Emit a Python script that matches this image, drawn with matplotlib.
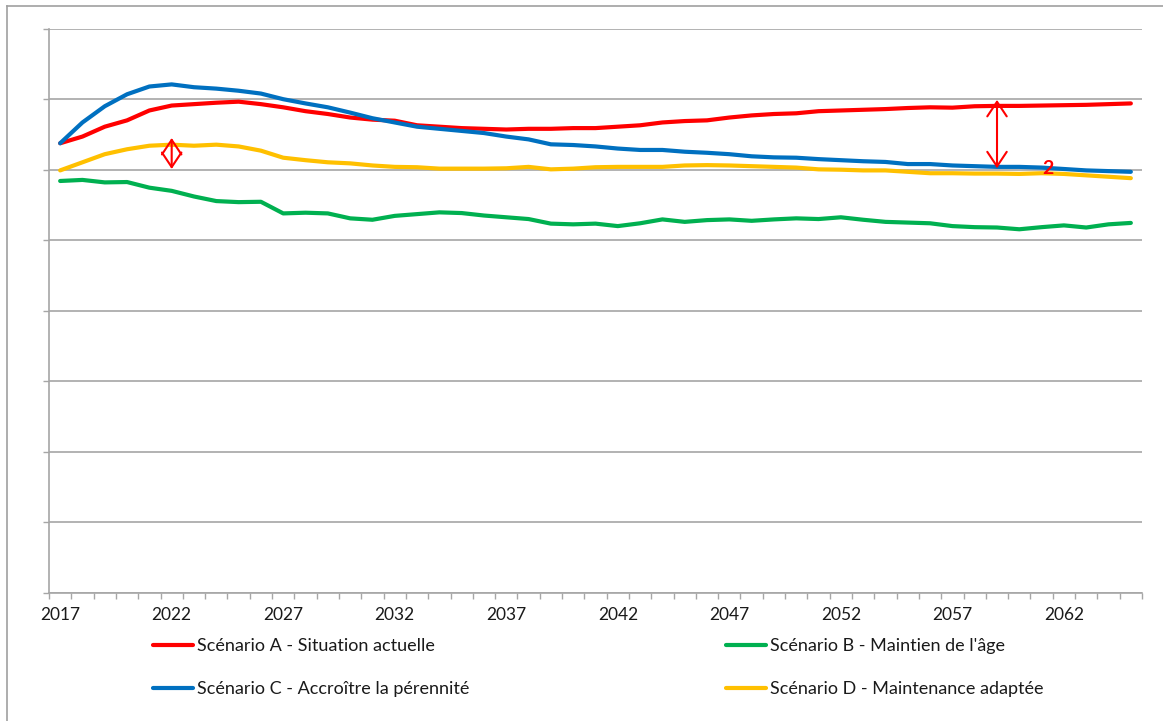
import matplotlib
matplotlib.use("Agg")
import matplotlib.pyplot as plt
from matplotlib.lines import Line2D
import numpy as np

years = list(range(2017, 2066))
tick_years = list(range(2017, 2066, 5))

scen_A = [6.375, 6.47, 6.61, 6.70, 6.84, 6.91, 6.93, 6.95, 6.965, 6.93,
          6.885, 6.83, 6.79, 6.74, 6.71, 6.695, 6.63, 6.61, 6.59, 6.58,
          6.57, 6.58, 6.58, 6.59, 6.59, 6.61, 6.63, 6.67, 6.69, 6.70,
          6.74, 6.77, 6.79, 6.80, 6.83, 6.84, 6.85, 6.86, 6.875, 6.885,
          6.88, 6.90, 6.905, 6.905, 6.91, 6.915, 6.92, 6.93, 6.94]
scen_B = [5.84, 5.855, 5.82, 5.825, 5.745, 5.70, 5.62, 5.555, 5.54, 5.545,
          5.38, 5.39, 5.38, 5.31, 5.29, 5.345, 5.37, 5.395, 5.385, 5.35,
          5.325, 5.30, 5.235, 5.225, 5.235, 5.20, 5.24, 5.295, 5.26, 5.285,
          5.295, 5.275, 5.295, 5.31, 5.30, 5.325, 5.29, 5.26, 5.25, 5.24,
          5.20, 5.185, 5.18, 5.155, 5.185, 5.21, 5.18, 5.225, 5.245]
scen_C = [6.375, 6.67, 6.90, 7.07, 7.18, 7.21, 7.17, 7.15, 7.12, 7.08,
          7.00, 6.94, 6.885, 6.81, 6.73, 6.67, 6.61, 6.58, 6.55, 6.52,
          6.47, 6.43, 6.36, 6.35, 6.33, 6.30, 6.28, 6.28, 6.255, 6.24,
          6.22, 6.19, 6.175, 6.17, 6.15, 6.135, 6.12, 6.11, 6.08, 6.08,
          6.06, 6.05, 6.04, 6.04, 6.03, 6.01, 5.99, 5.98, 5.97]
scen_D = [5.99, 6.105, 6.22, 6.29, 6.34, 6.355, 6.34, 6.355, 6.33, 6.27,
          6.17, 6.135, 6.105, 6.09, 6.06, 6.04, 6.035, 6.015, 6.015, 6.015,
          6.02, 6.04, 6.005, 6.015, 6.035, 6.04, 6.04, 6.04, 6.06, 6.065,
          6.06, 6.05, 6.04, 6.03, 6.005, 6.00, 5.99, 5.99, 5.97, 5.95,
          5.95, 5.945, 5.945, 5.94, 5.95, 5.94, 5.92, 5.90, 5.88]

series_names = ["Scénario A - Situation actuelle",
                "Scénario B - Maintien de l'âge",
                "Scénario C - Accroître la pérennité",
                "Scénario D - Maintenance adaptée"]
series_colors = ["#FF0000", "#00B050", "#0070C0", "#FFC000"]

# annotations
small_arrow_year, small_arrow_y = 2022, (6.01, 6.45)
big_arrow_year, big_arrow_y = 2059, (6.02, 6.99)
label_year, label_y, label_txt = 2061.3, 6.01, "2"

plt.rcParams['font.family'] = ['Lato', 'DejaVu Sans']

W, H = 1163, 721
fig = plt.figure(figsize=(W / 100, H / 100), dpi=100)
ax = fig.add_axes([49 / W, 1 - 592.7 / H, (1142 - 49) / W, (592.7 - 28.7) / H])

x = np.arange(len(years))
data = [scen_A, scen_B, scen_C, scen_D]
handles = []
for vals, name, col in zip(data, series_names, series_colors):
    h, = ax.plot(x, vals, color=col, lw=3.0, label=name, solid_capstyle='round',
                 solid_joinstyle='round', zorder=3)
    handles.append(h)

ax.set_xlim(-0.5, len(years) - 0.5)
ax.set_ylim(0, 8)

grid_col = "#A6A6A6"
ax.set_yticks(np.arange(0, 9, 1))
ax.set_yticklabels([])
ax.yaxis.grid(True, color=grid_col, lw=1.2)
ax.tick_params(axis='y', length=4.5, width=1.0, color=grid_col, direction='out')

ax.set_xticks(np.arange(-0.5, len(years), 1))
ax.set_xticklabels([])
ax.tick_params(axis='x', which='major', length=4, width=1.0, color=grid_col, direction='out')
ax.set_xticks([years.index(y) for y in tick_years], minor=True)
ax.set_xticklabels([str(y) for y in tick_years], minor=True)
ax.tick_params(axis='x', which='minor', length=0, pad=10, labelsize=12.5, labelcolor='#1a1a1a')

for s in ['top', 'right']:
    ax.spines[s].set_visible(False)
for s in ['left', 'bottom']:
    ax.spines[s].set_color(grid_col)
    ax.spines[s].set_linewidth(1.2)

def xi(yr):
    return yr - years[0]

arrow_style = "<->,head_length=1.05,head_width=0.7"
ax.annotate("", xy=(xi(small_arrow_year), small_arrow_y[0]),
            xytext=(xi(small_arrow_year), small_arrow_y[1]),
            arrowprops=dict(arrowstyle=arrow_style, color="#FF0000", lw=1.5,
                            shrinkA=0, shrinkB=0), zorder=5)
ax.annotate("", xy=(xi(big_arrow_year), big_arrow_y[0]),
            xytext=(xi(big_arrow_year), big_arrow_y[1]),
            arrowprops=dict(arrowstyle=arrow_style, color="#FF0000", lw=1.5,
                            shrinkA=0, shrinkB=0), zorder=5)
ax.text(xi(label_year), label_y, label_txt, color="#FF0000", fontsize=14,
        fontweight='bold', ha='center', va='center', zorder=6)

# legend
order = [0, 2, 1, 3]
leg = fig.legend([handles[i] for i in order], [series_names[i] for i in order],
                 ncol=2, loc='upper left', bbox_to_anchor=(146 / W, 1 - 631 / H),
                 frameon=False, fontsize=13, handlelength=2.2, handletextpad=0.25,
                 columnspacing=14.2, labelspacing=1.5, borderaxespad=0)
for t in leg.get_texts():
    t.set_color('#1a1a1a')

# outer frame
fig.add_artist(Line2D([7 / W, 7 / W], [0, 1 - 6 / H], color="#A0A0A0", lw=1.2))
fig.add_artist(Line2D([7 / W, 1], [1 - 6 / H, 1 - 6 / H], color="#A0A0A0", lw=1.2))

fig.savefig("out.png", dpi=100)
